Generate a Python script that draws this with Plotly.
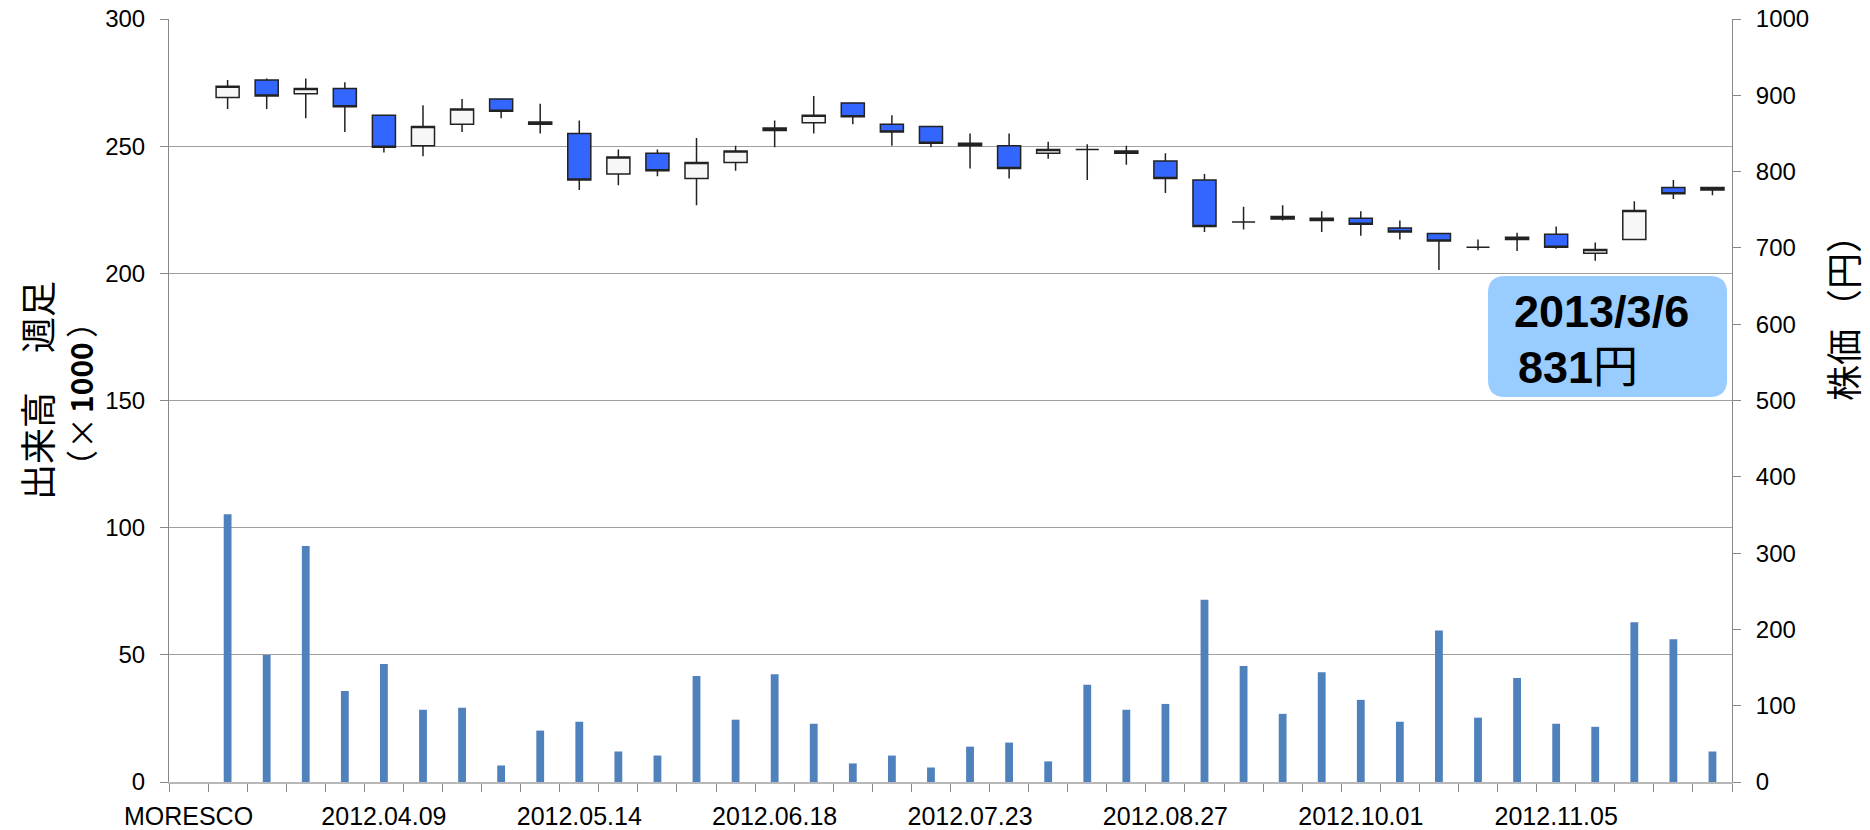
import plotly.graph_objects as go

# ---------------- data ----------------
categories = ["MORESCO",
              "2012.03.12", "2012.03.19", "2012.03.26", "2012.04.02", "2012.04.09",
              "2012.04.16", "2012.04.23", "2012.04.30", "2012.05.07", "2012.05.14",
              "2012.05.21", "2012.05.28", "2012.06.04", "2012.06.11", "2012.06.18",
              "2012.06.25", "2012.07.02", "2012.07.09", "2012.07.16", "2012.07.23",
              "2012.07.30", "2012.08.06", "2012.08.13", "2012.08.20", "2012.08.27",
              "2012.09.03", "2012.09.10", "2012.09.17", "2012.09.24", "2012.10.01",
              "2012.10.08", "2012.10.15", "2012.10.22", "2012.10.29", "2012.11.05",
              "2012.11.12", "2012.11.19", "2012.11.26", "2012.12.03"]
weeks = categories[1:]
tick_labels = ["MORESCO", "2012.04.09", "2012.05.14", "2012.06.18",
               "2012.07.23", "2012.08.27", "2012.10.01", "2012.11.05"]

open_ = [897, 920, 902, 909, 874, 834, 862, 895, 865, 850,
         797, 824, 791, 812, 857, 864, 890, 862, 859, 837,
         834, 824, 829, 827, 814, 789, 734, 738, 739, 739,
         726, 719, 701, 714, 718, 693, 711, 779, 779]
close = [912, 899, 909, 885, 832, 859, 882, 879, 862, 789,
         819, 801, 812, 827, 854, 874, 872, 852, 837, 834,
         804, 829, 829, 824, 791, 728, 734, 741, 736, 731,
         721, 709, 701, 711, 701, 698, 749, 771, 776]
high = [920, 922, 922, 917, 874, 887, 895, 895, 889, 867,
        829, 829, 844, 834, 867, 899, 890, 874, 859, 850,
        850, 839, 836, 834, 824, 797, 754, 756, 748, 748,
        736, 719, 711, 720, 728, 707, 761, 789, 780]
low = [882, 882, 870, 852, 825, 820, 852, 870, 850, 776,
       782, 794, 756, 801, 832, 850, 862, 834, 832, 804,
       791, 817, 789, 809, 772, 721, 724, 736, 721, 716,
       711, 671, 697, 696, 699, 683, 710, 764, 769]
volume = [105.3, 49.9, 92.8, 35.8, 46.4, 28.4, 29.2, 6.5, 20.2, 23.7,
          12.0, 10.4, 41.7, 24.5, 42.4, 22.9, 7.3, 10.4, 5.7, 13.9,
          15.5, 8.1, 38.2, 28.4, 30.7, 71.7, 45.6, 26.8, 43.2, 32.3,
          23.7, 59.6, 25.3, 40.9, 22.9, 21.7, 62.8, 56.1, 12.0]

note_date = "2013/3/6"
note_price = "831"

# ---------------- layout geometry ----------------
W, H = 1870, 830
ML, MR, MT, MB = 169, 138, 19, 48
PW, PH = W - ML - MR, H - MT - MB


def px(x):
    return (x - ML) / PW


def py(y):
    return (H - MB - y) / PH


x_pos = [categories.index(w) for w in weeks]
tick_pos = [categories.index(t) for t in tick_labels]

fig = go.Figure()

fig.add_trace(go.Bar(
    x=x_pos, y=volume, width=0.2,
    marker=dict(color="#4F81BD", line=dict(width=0)),
    yaxis="y", showlegend=False, hoverinfo="skip"))

fig.add_trace(go.Candlestick(
    x=x_pos, open=open_, high=high, low=low, close=close,
    yaxis="y2", showlegend=False, whiskerwidth=0,
    increasing=dict(fillcolor="#F7F7F7", line=dict(color="#222222", width=1.5)),
    decreasing=dict(fillcolor="#3366FF", line=dict(color="#222222", width=1.5))))

tickfont = dict(family="Liberation Sans, Arial, sans-serif", size=24, color="#000000")

fig.update_layout(
    width=W, height=H,
    margin=dict(l=ML, r=MR, t=MT, b=MB, pad=0, autoexpand=False),
    paper_bgcolor="white", plot_bgcolor="white",
    showlegend=False,
    boxgap=0.41, boxgroupgap=0.0,
    xaxis=dict(
        type="linear", range=[-0.5, len(categories) - 0.5],
        tickmode="array", tickvals=tick_pos, ticktext=tick_labels,
        ticks="", showgrid=False, zeroline=False,
        showline=True, linecolor="#B8B8B8", linewidth=2,
        tickfont=dict(family="Liberation Sans, Arial, sans-serif", size=25, color="#000000"),
        ticklabelstandoff=11, automargin=False,
        minor=dict(tickmode="linear", tick0=-0.5, dtick=1, ticks="outside",
                   ticklen=8, tickcolor="#888888", tickwidth=1, showgrid=False),
        rangeslider=dict(visible=False),
        fixedrange=True),
    yaxis=dict(
        range=[0, 300], tickmode="linear", tick0=0, dtick=50,
        ticks="outside", ticklen=8, tickcolor="#888888",
        showgrid=True, gridcolor="#A0A0A0", gridwidth=1,
        zeroline=False, showline=True, linecolor="#888888", linewidth=1,
        tickfont=tickfont, ticklabelstandoff=10, automargin=False),
    yaxis2=dict(
        range=[0, 1000], tickmode="linear", tick0=0, dtick=100,
        overlaying="y", side="right", anchor="x",
        ticks="outside", ticklen=8, tickcolor="#888888",
        showgrid=False, zeroline=False, showline=True,
        linecolor="#888888", linewidth=1,
        tickfont=tickfont, ticklabelstandoff=10, automargin=False),
)

# axis titles (placed piece by piece, rotated)
cjk = "'Noto Sans CJK JP', 'Noto Sans CJK SC', sans-serif"


def vtext(text, x, y, size, bold=False):
    fig.add_annotation(text=(f"<b>{text}</b>" if bold else text),
                       xref="paper", yref="paper", x=px(x), y=py(y),
                       xanchor="center", yanchor="middle", textangle=-90,
                       showarrow=False,
                       font=dict(family=cjk, size=size, color="#000000"))


vtext("出来高", 36, 446, 36)
vtext("週足", 36, 317, 36)
vtext("（", 80, 466, 32)
vtext("×", 80, 433, 32)
vtext("1000", 80, 378, 30, bold=True)
vtext("）", 80, 322, 32)
vtext("株価", 1842, 365, 36)
vtext("（円）", 1842, 271, 36)

# rounded note box
x0, x1, y0, y1, r = 1488, 1727, 276, 397, 17
pts = [
    ("M", [(x0 + r, y0)]),
    ("L", [(x1 - r, y0)]),
    ("Q", [(x1, y0), (x1, y0 + r)]),
    ("L", [(x1, y1 - r)]),
    ("Q", [(x1, y1), (x1 - r, y1)]),
    ("L", [(x0 + r, y1)]),
    ("Q", [(x0, y1), (x0, y1 - r)]),
    ("L", [(x0, y0 + r)]),
    ("Q", [(x0, y0), (x0 + r, y0)]),
]
path = " ".join(cmd + " " + " ".join(f"{px(a):.5f},{py(b):.5f}" for a, b in p) for cmd, p in pts) + " Z"
fig.add_shape(type="path", xref="paper", yref="paper", path=path,
              fillcolor="#99CCFF", line=dict(width=0), layer="above")

notefont = dict(family="Liberation Sans, Arial, 'Noto Sans CJK JP', sans-serif", size=45, color="#000000")
fig.add_annotation(text=f"<b>{note_date}</b>", xref="paper", yref="paper",
                   x=px(1512), y=py(311), xanchor="left", yanchor="middle",
                   showarrow=False, font=notefont)
fig.add_annotation(text=f"<b>{note_price}</b>円", xref="paper", yref="paper",
                   x=px(1516), y=py(367), xanchor="left", yanchor="middle",
                   showarrow=False, font=notefont)

fig.write_html("out.html")
